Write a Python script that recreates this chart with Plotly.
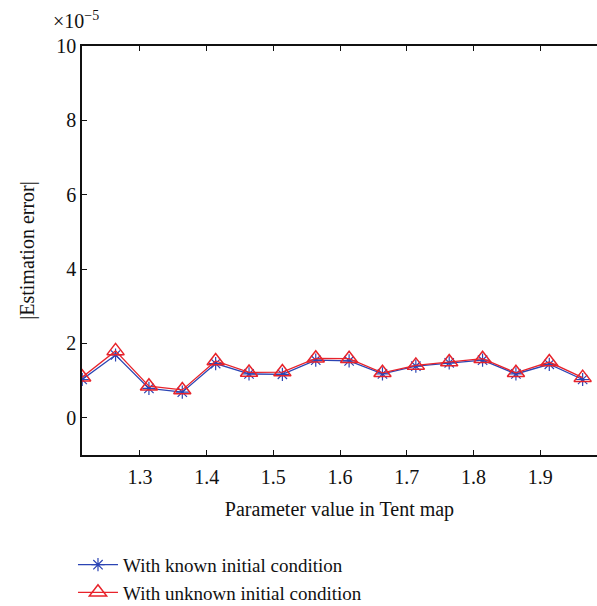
import plotly.graph_objects as go

# Data (values in units of 1e-5)
param = [1.2135, 1.2635, 1.3135, 1.3635, 1.4135, 1.4635, 1.5135, 1.5635,
         1.6135, 1.6635, 1.7135, 1.7635, 1.8135, 1.8635, 1.9135, 1.9635]
known = [1.03, 1.69, 0.79, 0.69, 1.46, 1.18, 1.17, 1.55,
         1.53, 1.18, 1.39, 1.48, 1.55, 1.18, 1.44, 1.03]
unknown = [1.09, 1.80, 0.85, 0.75, 1.53, 1.22, 1.23, 1.60,
           1.59, 1.21, 1.41, 1.50, 1.59, 1.21, 1.50, 1.08]
x_ticks = [1.3, 1.4, 1.5, 1.6, 1.7, 1.8, 1.9]
y_ticks = [0, 2, 4, 6, 8, 10]

BLUE = "#2b44b4"
RED = "#e8232b"
FONT = "Liberation Serif"
FS = 20

fig = go.Figure()
fig.add_trace(go.Scatter(
    x=param, y=known, mode="lines+markers",
    name="With known initial condition",
    line=dict(color=BLUE, width=1.3),
    marker=dict(symbol="asterisk-open", size=11, color=BLUE,
                line=dict(color=BLUE, width=1.2)),
))
fig.add_trace(go.Scatter(
    x=param, y=unknown, mode="lines+markers",
    name="With unknown initial condition",
    line=dict(color=RED, width=1.3),
    marker=dict(symbol="triangle-up-open", size=15, color=RED,
                line=dict(color=RED, width=1.5)),
))

fig.update_layout(
    width=597, height=606,
    margin=dict(l=82, r=0, t=46, b=151, autoexpand=False),
    paper_bgcolor="white", plot_bgcolor="white",
    font=dict(family=FONT, size=FS, color="#111111"),
    showlegend=True,
    legend=dict(x=-0.0175, y=-0.222, xanchor="left", yanchor="top",
                font=dict(family=FONT, size=19, color="#111111"),
                bgcolor="rgba(0,0,0,0)", tracegroupgap=0,
                itemwidth=40),
    xaxis=dict(
        range=[1.2132, 1.985], tickvals=x_ticks,
        ticktext=[f"{v:.1f}" for v in x_ticks],
        ticks="inside", ticklen=5, tickcolor="#111111",
        ticklabelstandoff=3,
        showline=True, linecolor="#111111", linewidth=1.5, mirror="ticks",
        showgrid=False, zeroline=False, automargin=False,
        title=dict(text="Parameter value in Tent map", standoff=15,
                   font=dict(family=FONT, size=FS)),
    ),
    yaxis=dict(
        range=[-1, 10], tickvals=y_ticks,
        ticktext=[str(v) for v in y_ticks],
        ticks="inside", ticklen=5, tickcolor="#111111",
        showline=True, linecolor="#111111", linewidth=1.5, mirror=False,
        showgrid=False, zeroline=False, automargin=False,
        title=dict(text="|Estimation error|", standoff=16,
                   font=dict(family=FONT, size=FS)),
    ),
    annotations=[dict(
        text="×10<sup>−5</sup>", xref="paper", yref="paper",
        x=-0.06, y=1.0, xanchor="left", yanchor="bottom", yshift=12,
        showarrow=False, font=dict(family=FONT, size=FS, color="#111111"),
    )],
)

fig.write_html(
    "out.html",
    config={"displayModeBar": False},
    post_script=("document.body.style.margin='0';"
                 "document.body.style.overflow='hidden';"
                 "document.documentElement.style.overflow='hidden';"),
)
